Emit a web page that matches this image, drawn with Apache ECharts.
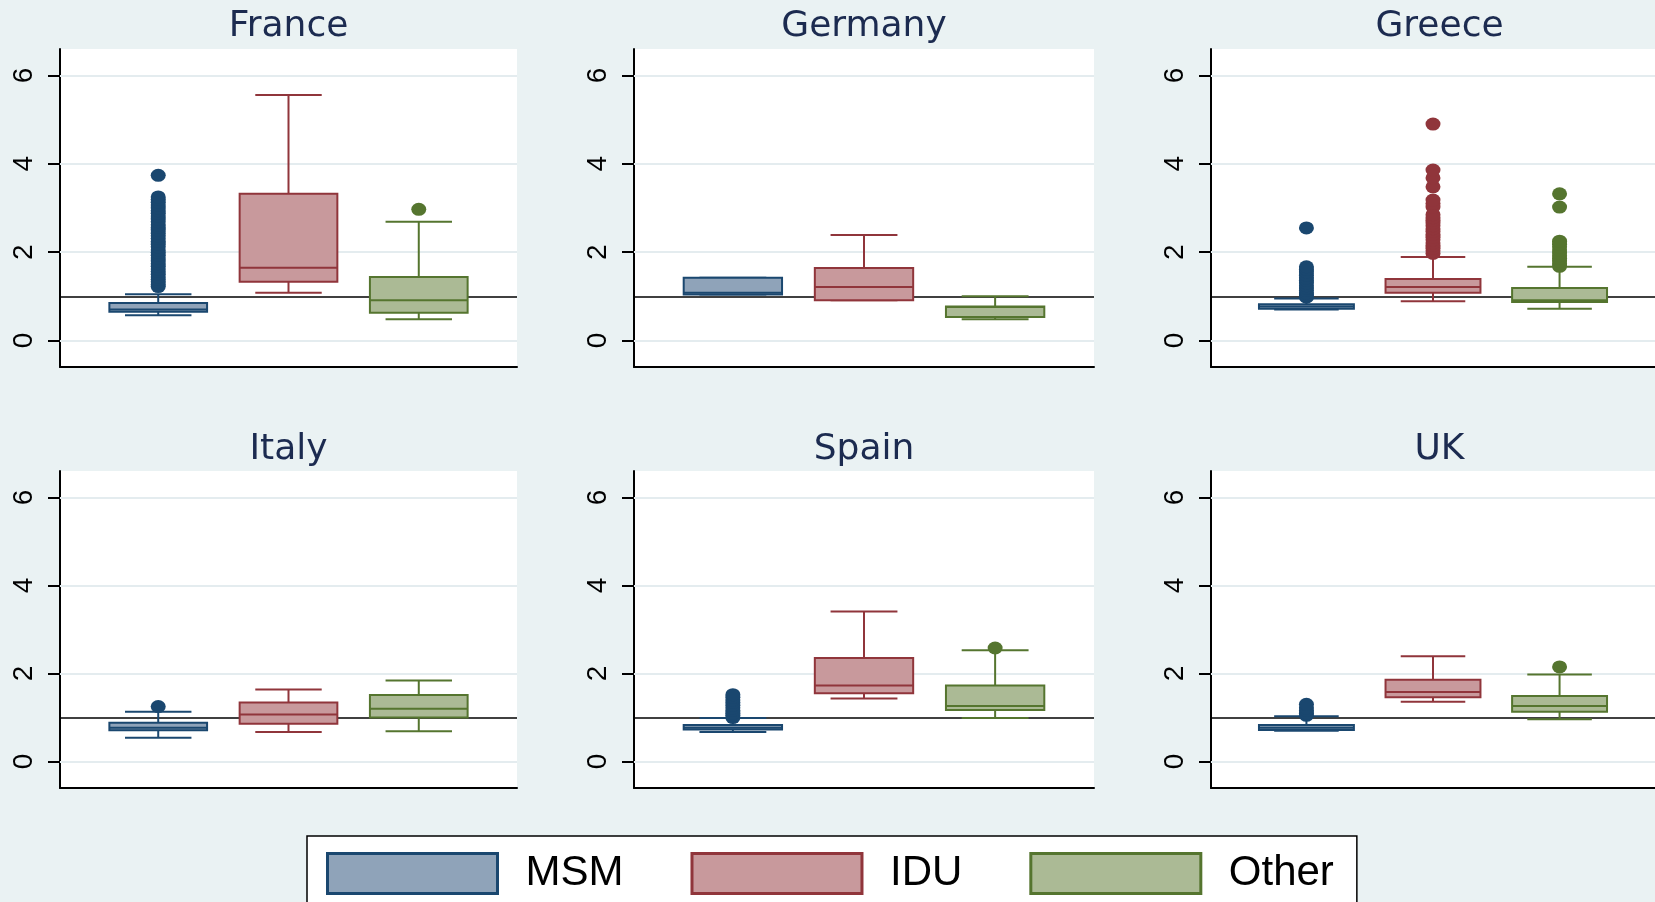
<!DOCTYPE html>
<html>
<head>
<meta charset="utf-8">
<script src="https://cdn.jsdelivr.net/npm/echarts@6/dist/echarts.min.js"></script>
<style>
  html, body { margin: 0; padding: 0; background: #eaf2f3; }
  #chart { width: 1655px; height: 902px; }
</style>
</head>
<body>
<div id="chart"></div>
<script>
// Panels and transmission groups
const countries = ['France', 'Germany', 'Greece', 'Italy', 'Spain', 'UK'];
const groups = ['MSM', 'IDU', 'Other'];

// Box statistics per country: [lower whisker, Q1, median, Q3, upper whisker]
const msmStats = [
  [0.57, 0.65, 0.70, 0.85, 1.05],
  [1.04, 1.04, 1.08, 1.42, 1.42],
  [0.70, 0.72, 0.77, 0.82, 0.95],
  [0.54, 0.71, 0.77, 0.88, 1.13],
  [0.67, 0.73, 0.77, 0.83, 0.99],
  [0.70, 0.72, 0.77, 0.83, 1.03]
];
const iduStats = [
  [1.08, 1.33, 1.65, 3.32, 5.56],
  [0.91, 0.91, 1.21, 1.64, 2.39],
  [0.89, 1.08, 1.21, 1.39, 1.89],
  [0.67, 0.86, 1.07, 1.34, 1.64],
  [1.43, 1.55, 1.73, 2.35, 3.41],
  [1.36, 1.46, 1.58, 1.86, 2.39]
];
const otherStats = [
  [0.48, 0.63, 0.91, 1.44, 2.69],
  [0.48, 0.53, 0.76, 0.77, 1.00],
  [0.72, 0.87, 0.91, 1.19, 1.67],
  [0.69, 1.00, 1.20, 1.51, 1.84],
  [0.99, 1.17, 1.26, 1.73, 2.53],
  [0.96, 1.13, 1.26, 1.49, 1.98]
];

// Outside values per country
const msmOutliers = [
  [1.22, 1.27, 1.33, 1.38, 1.44, 1.50, 1.56, 1.62, 1.68, 1.74, 1.80, 1.87, 1.93, 1.99, 2.05, 2.12, 2.18,
   2.24, 2.31, 2.37, 2.43, 2.50, 2.56, 2.62, 2.69, 2.75, 2.82, 2.88, 2.94, 3.00, 3.07, 3.13, 3.19, 3.25, 3.74],
  [],
  [0.98, 1.03, 1.08, 1.13, 1.19, 1.24, 1.30, 1.36, 1.42, 1.48, 1.55, 1.61, 1.67, 2.55],
  [1.25],
  [1.00, 1.05, 1.10, 1.16, 1.22, 1.28, 1.34, 1.40, 1.46, 1.52],
  [1.05, 1.10, 1.16, 1.22, 1.30]
];
const iduOutliers = [
  [],
  [],
  [1.97, 2.03, 2.09, 2.15, 2.21, 2.28, 2.34, 2.40, 2.47, 2.53, 2.60, 2.66, 2.72, 2.78, 2.85,
   3.02, 3.10, 3.18, 3.48, 3.68, 3.86, 4.90],
  [],
  [],
  []
];
const otherOutliers = [
  [2.97],
  [],
  [1.68, 1.74, 1.80, 1.86, 1.92, 1.98, 2.05, 2.12, 2.18, 2.25, 3.02, 3.32],
  [],
  [2.58],
  [2.15]
];

// Y axis ticks and reference level
const yTicks = [0, 2, 4, 6];
const refLevel = 1;

const statsByGroup = [msmStats, iduStats, otherStats];
const outliersByGroup = [msmOutliers, iduOutliers, otherOutliers];

// Styling
const edgeColors = ['#1a476f', '#90353b', '#55752f'];
const fillColors = ['#8fa3b9', '#c8999c', '#abba95'];
const BOX_W = 0.75;
const CAP_W = 0.51;

// Panel geometry (pixels)
const colLeft = [60, 634, 1211];
const colWidth = [457, 460, 457];
const rowTop = [49, 471];
const rowHeight = [318, 317];
const titleTop = [9, 432];

function makeRenderer(g) {
  return function (params, api) {
    const x = api.value(0);
    const lo = api.value(1), q1 = api.value(2), med = api.value(3), q3 = api.value(4), hi = api.value(5);
    const half = api.size([BOX_W, 0])[0] / 2;
    const capHalf = api.size([CAP_W, 0])[0] / 2;
    const pLo = api.coord([x, lo]);
    const pQ1 = api.coord([x, q1]);
    const pMed = api.coord([x, med]);
    const pQ3 = api.coord([x, q3]);
    const pHi = api.coord([x, hi]);
    const cx = pMed[0];
    const stroke = { stroke: edgeColors[g], lineWidth: 2 };
    return {
      type: 'group',
      children: [
        { type: 'line', shape: { x1: cx, y1: pQ3[1], x2: cx, y2: pHi[1] }, style: stroke },
        { type: 'line', shape: { x1: cx - capHalf, y1: pHi[1], x2: cx + capHalf, y2: pHi[1] }, style: stroke },
        { type: 'line', shape: { x1: cx, y1: pQ1[1], x2: cx, y2: pLo[1] }, style: stroke },
        { type: 'line', shape: { x1: cx - capHalf, y1: pLo[1], x2: cx + capHalf, y2: pLo[1] }, style: stroke },
        {
          type: 'rect',
          shape: { x: cx - half, y: pQ3[1], width: half * 2, height: pQ1[1] - pQ3[1] },
          style: { fill: fillColors[g], stroke: edgeColors[g], lineWidth: 2 }
        },
        { type: 'line', shape: { x1: cx - half, y1: pMed[1], x2: cx + half, y2: pMed[1] }, style: stroke }
      ]
    };
  };
}

const grids = [], xAxes = [], yAxes = [], titles = [], series = [];

countries.forEach((name, i) => {
  const row = Math.floor(i / 3), col = i % 3;
  grids.push({
    left: colLeft[col], top: rowTop[row], width: colWidth[col], height: rowHeight[row],
    show: true, backgroundColor: '#ffffff', borderWidth: 0
  });
  xAxes.push({
    gridIndex: i, type: 'value', min: 0.246, max: 3.754,
    axisLine: { show: true, onZero: false, lineStyle: { color: '#000', width: 2 } },
    axisTick: { show: false }, axisLabel: { show: false }, splitLine: { show: false }
  });
  yAxes.push({
    gridIndex: i, type: 'value', min: -0.6, max: 6.6,
    axisLine: { show: true, lineStyle: { color: '#000', width: 2 } },
    axisTick: { show: true, length: 12, customValues: yTicks, lineStyle: { color: '#000', width: 2 } },
    axisLabel: {
      show: true, customValues: yTicks, rotate: 90, margin: 22,
      fontFamily: 'Liberation Sans', fontSize: 28, color: '#000'
    },
    splitLine: { show: false }
  });
  titles.push({
    text: name, left: colLeft[col] + colWidth[col] / 2, top: titleTop[row], textAlign: 'center', padding: 0,
    textStyle: { fontFamily: 'DejaVu Sans', fontSize: 36, fontWeight: 'normal', color: '#1c2b50' }
  });

  // gridlines and reference line, drawn beneath the boxes
  series.push({
    type: 'line', xAxisIndex: i, yAxisIndex: i, data: [], silent: true, z: 1,
    markLine: {
      silent: true, z: 1, symbol: 'none', label: { show: false }, animation: false,
      data: yTicks.map(v => ({ yAxis: v, lineStyle: { color: '#e4ecef', width: 2, type: 'solid' } }))
        .concat([{ yAxis: refLevel, lineStyle: { color: '#000', width: 1.5, type: 'solid' } }])
    }
  });

  groups.forEach((gname, g) => {
    const xPos = g + 1;
    series.push({
      name: gname, type: 'custom', xAxisIndex: i, yAxisIndex: i, z: 3,
      itemStyle: { color: fillColors[g] },
      renderItem: makeRenderer(g),
      encode: { x: 0, y: [1, 2, 3, 4, 5] },
      data: [[xPos].concat(statsByGroup[g][i])]
    });
    series.push({
      name: gname, type: 'scatter', xAxisIndex: i, yAxisIndex: i, z: 4,
      symbol: 'circle', symbolSize: [15, 13],
      itemStyle: { color: edgeColors[g], opacity: 1 },
      data: outliersByGroup[g][i].map(v => [xPos, v])
    });
  });
});

const chart = echarts.init(document.getElementById('chart'), null, { renderer: 'canvas' });
chart.setOption({
  animation: false,
  backgroundColor: '#eaf2f3',
  title: titles,
  grid: grids,
  xAxis: xAxes,
  yAxis: yAxes,
  legend: {
    left: 307, top: 836, orient: 'horizontal',
    padding: [16, 23, 16, 19],
    borderColor: '#000', borderWidth: 1.5, backgroundColor: '#ffffff',
    itemWidth: 170, itemHeight: 40, itemGap: 67,
    selectedMode: false,
    textStyle: { fontFamily: 'Liberation Sans', fontSize: 42, color: '#000', padding: [0, 0, 0, 23] },
    data: groups.map((g, k) => ({
      name: g, icon: 'rect',
      itemStyle: { color: fillColors[k], borderColor: edgeColors[k], borderWidth: 3 }
    }))
  },
  series: series
});
</script>
</body>
</html>
